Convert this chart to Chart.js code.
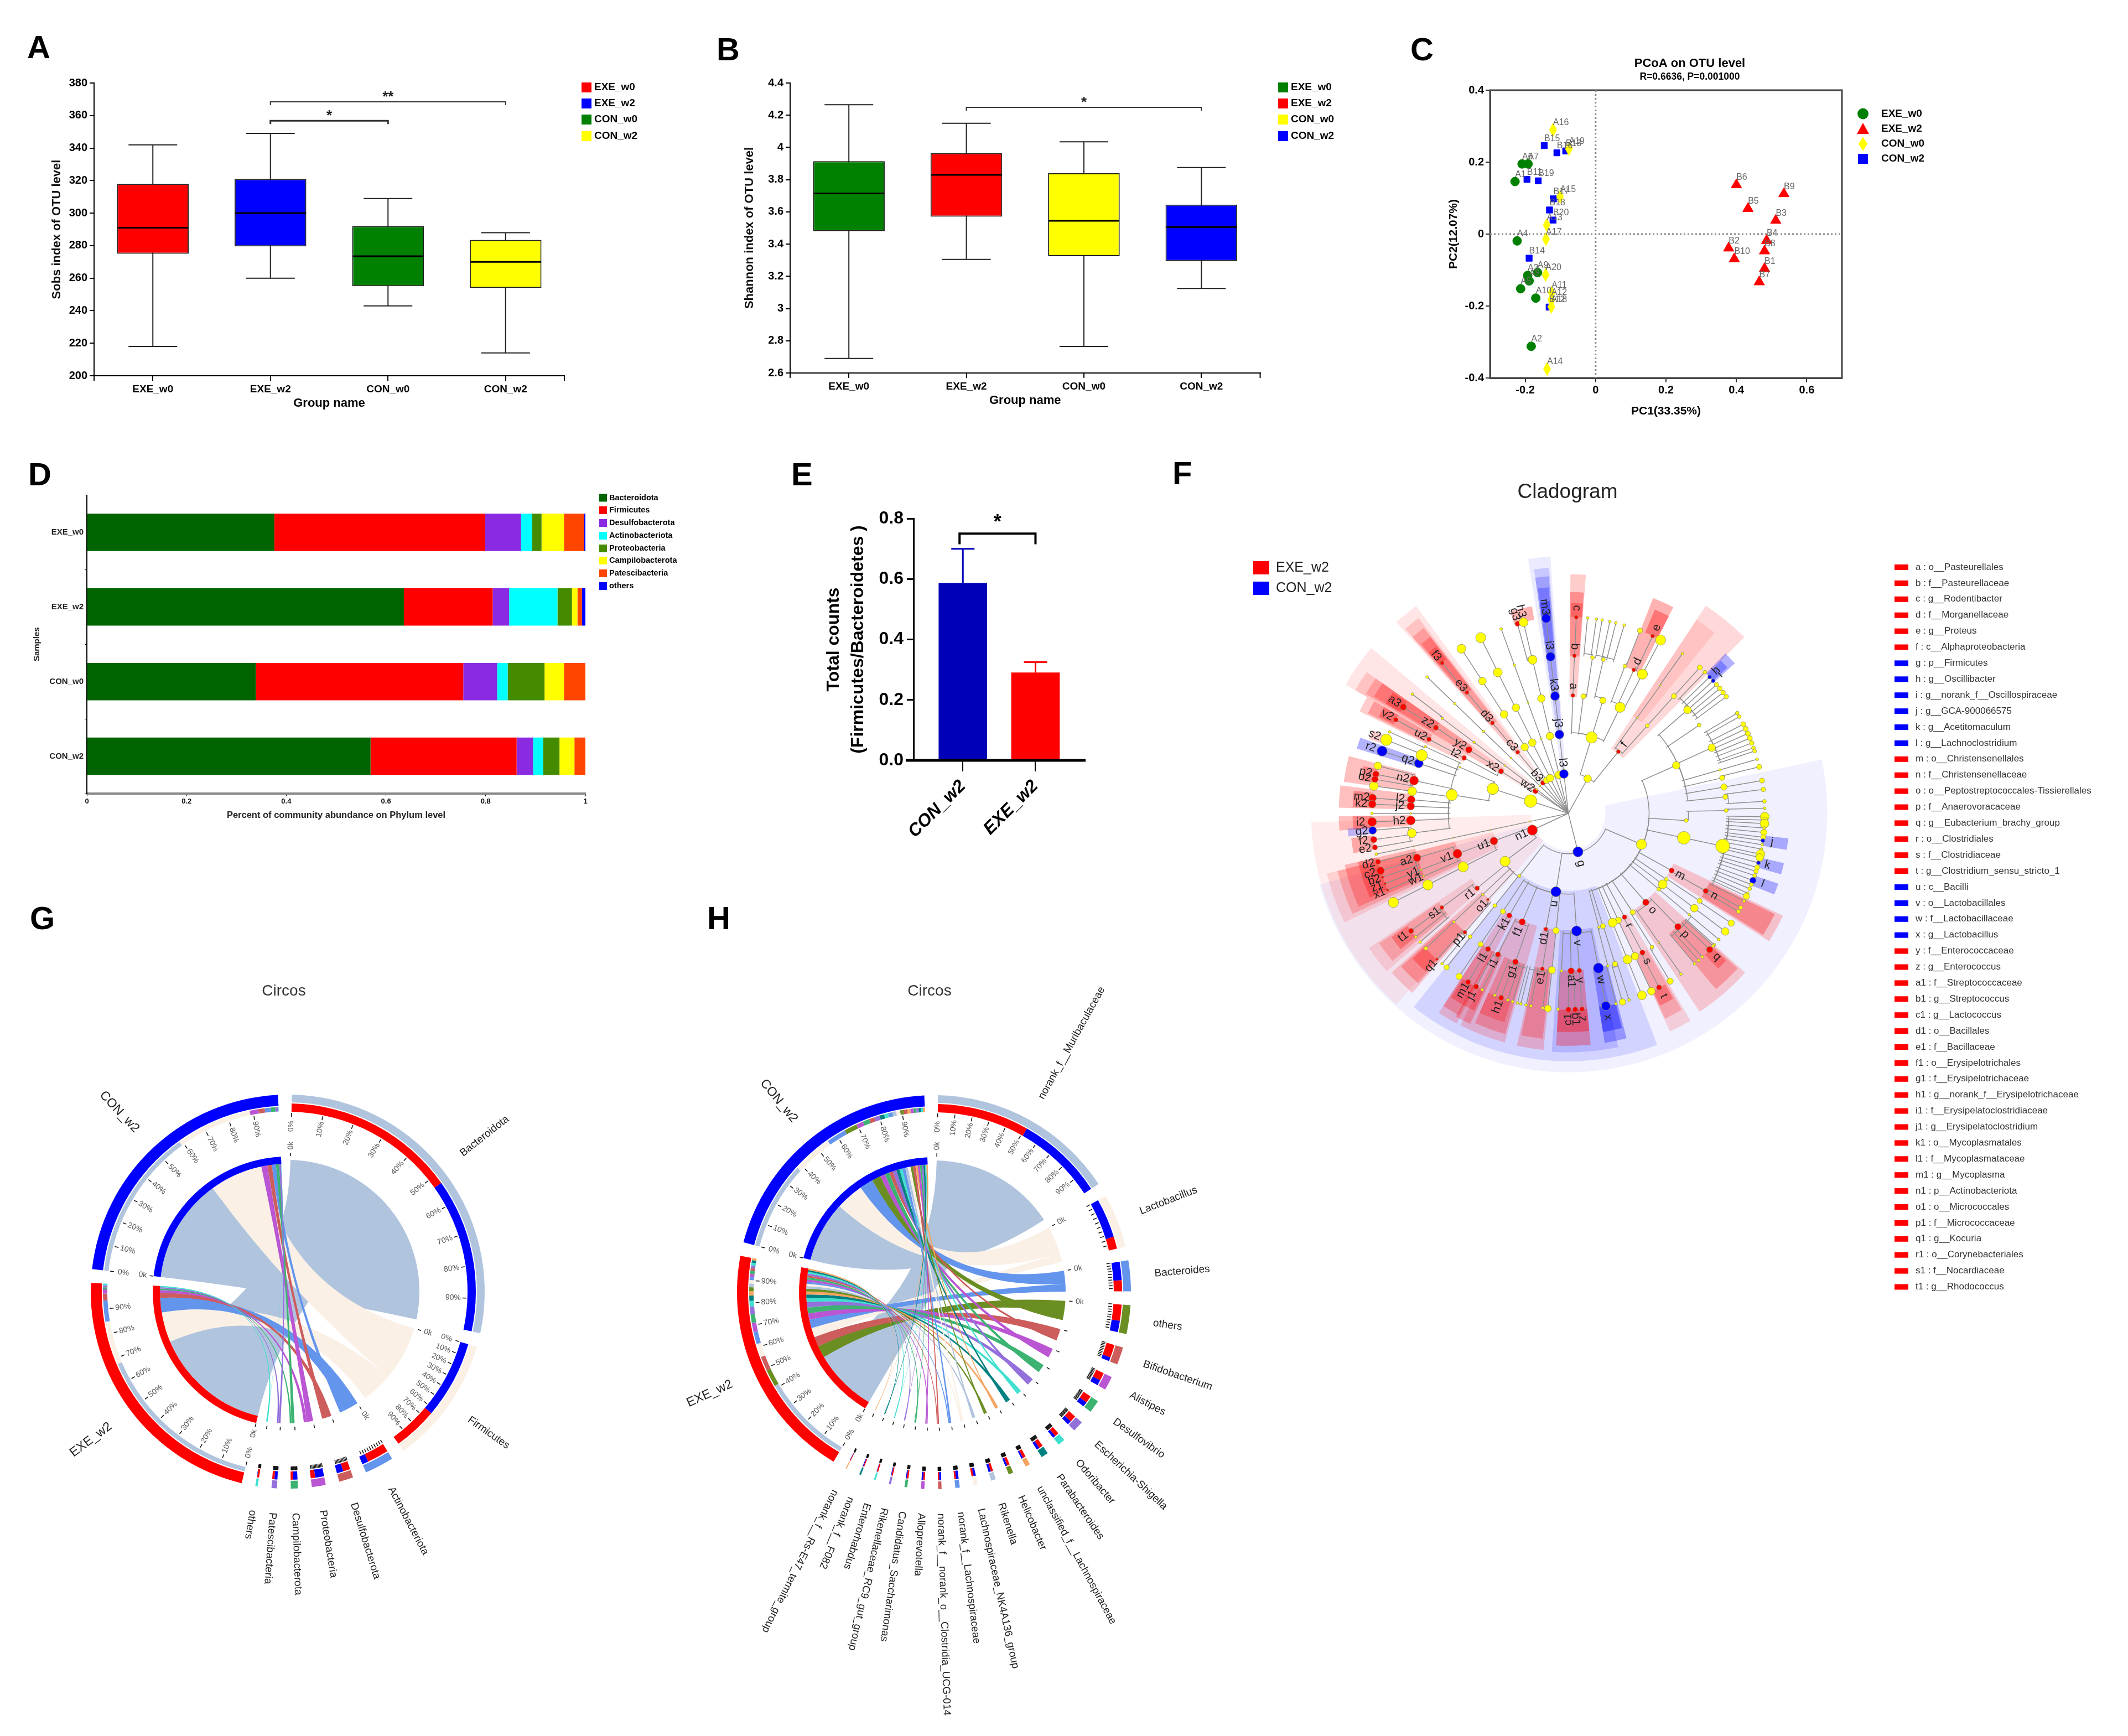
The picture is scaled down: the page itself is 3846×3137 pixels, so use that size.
<!DOCTYPE html>
<html>
<head>
<meta charset="utf-8">
<title>Figure</title>
<script src="https://cdn.jsdelivr.net/npm/chart.js@4/dist/chart.umd.js"></script>
<style>
  html, body { margin: 0; background: #fff; }
  #page { position: relative; width: 3846px; height: 3137px; overflow: hidden; background: #fff; }
  #page canvas { position: absolute; }
  .tag { position: absolute; font: bold 58px/58px "Liberation Sans", sans-serif; color: #000; }
</style>
</head>
<body>
<div id="page"></div>
<script>
// ---- data ----
const panelTags = [['A',49,56],['B',1295,60],['C',2549,60],['D',51,828],['E',1430,828],['F',2119,826],['G',54,1630],['H',1278,1630]];

// A
const groups = ['EXE_w0', 'EXE_w2', 'CON_w0', 'CON_w2'];
const sobsMin = [218, 260, 243, 214];
const sobsQ1 = [275, 279.5, 255, 254];
const sobsMedian = [291, 300, 273.5, 270];
const sobsQ3 = [318, 321, 292, 283.5];
const sobsMax = [342, 349, 309, 288];
const sobsColors = ['#ff0000', '#0000ff', '#008000', '#ffff00'];

// B
const shannonMin = [2.69, 3.305, 2.765, 3.125];
const shannonQ1 = [3.48, 3.57, 3.325, 3.295];
const shannonMedian = [3.715, 3.83, 3.545, 3.505];
const shannonQ3 = [3.915, 3.965, 3.84, 3.645];
const shannonMax = [4.265, 4.15, 4.035, 3.875];
const shannonColors = ['#008000', '#ff0000', '#ffff00', '#0000ff'];

// C
const pcoaExeW0 = [[-.229,.146,'A1'],[-.192,.195,'A7'],[-.209,.195,'A6'],[-.223,-.019,'A4'],[-.193,-.115,'A3'],[-.165,-.107,'A9'],[-.189,-.13,'A8'],[-.213,-.152,'A5'],[-.17,-.178,'A10'],[-.183,-.312,'A2']];
const pcoaExeW2 = [[.4,.137,'B6'],[.535,.112,'B9'],[.433,.071,'B5'],[.512,.038,'B3'],[.486,-.018,'B4'],[.48,-.047,'B8'],[.378,-.039,'B2'],[.394,-.069,'B10'],[.48,-.096,'B1'],[.465,-.133,'B7']];
const pcoaConW0 = [[-.121,.29,'A16'],[-.076,.237,'A19'],[-.101,.104,'A15'],[-.139,.025,'A13'],[-.141,-.014,'A17'],[-.142,-.113,'A20'],[-.125,-.163,'A11'],[-.126,-.183,'A12'],[-.126,-.202,'A18'],[-.138,-.375,'A14']];
const pcoaConW2 = [[-.146,.246,'B15'],[-.11,.226,'B16'],[-.085,.231,'B13'],[-.195,.152,'B11'],[-.163,.148,'B19'],[-.12,.098,'B17'],[-.131,.067,'B18'],[-.121,.039,'B20'],[-.189,-.067,'B14'],[-.132,-.203,'B12']];
const pcoaXTicks = [-.2, 0, .2, .4, .6];

// D
const phylumNames = ['Bacteroidota','Firmicutes','Desulfobacterota','Actinobacteriota','Proteobacteria','Campilobacterota','Patescibacteria','others'];
const phylumColors = ['#006400','#ff0000','#8a2be2','#00ffff','#458b00','#ffff00','#ff4500','#0000ff'];
const abundExeW0 = [.376,.423,.072,.022,.019,.045,.040,.003];
const abundExeW2 = [.636,.178,.033,.097,.029,.011,.009,.007];
const abundConW0 = [.339,.416,.068,.021,.074,.039,.043,0];
const abundConW2 = [.569,.293,.033,.02,.033,.03,.022,0];

// E
const ratioGroups = ['CON_w2', 'EXE_w2'];
const ratioValues = [.586, .29];
const ratioTops = [.70, .325];
const ratioColors = ['#0000b8', '#ff0000'];

// F : [angle, colour, radius, label, children]; a bare number is a small yellow leaf
const cladeTree = [
 [29,'y',6,'',[
  [17,'y',9,'',[
   [2.2,'r',3,'a',[[2.2,'r',3,'b',[[2.3,'r',3,'c']]]]],
   [7.3,'y',4,'',[[8.8,'y',3,'',[5.6,8.2]]]],
   [17,'y',5,'',[[12.8,'y',3,'',[9.9,12.2,14,16.5]]]],
   [26,'y',8,'',[[21,'y',3,'',[[21.4,'y',4]]],[24.5,'r',3,'d',[[25.4,'r',3,'e']]],[28,'y',8,'',[[28,'y',8]]]]]
  ]],
  [39,'r',3,'f',[[42,'y',3,'',[[42,'y',4,'',[[42,'y',4]]]]],[35.7,'y',1.5,'',[[35.7,'y',1.5,'',[35.5]]]]]]
 ]],
 [166,'b',8,'g',[
  [113,'y',8,'',[
   [66,'y',6,'',[
    [49,'y',6,'',[[44,'y',3],[46,'b',3,'h'],[47.5,'b',3,'i'],[49,'y',3.5],[50.5,'y',3.5],[52,'y',3.5],[53.5,'y',3.5]]],
    [56,'y',3],
    [65.4,'y',6,'',[[59.3,'y',3],[60.5,'y',3],[63,'y',4],[64.5,'y',4],[66,'y',4],[67.5,'y',4],[69,'y',3.5],[70.5,'y',3],[71.5,'y',3]]],
    [74,'y',2,'',[74]],
    [77,'y',4,'',[[76.3,'y',4]]],
    [80.4,'y',5,'',[[80.4,'y',4]]],
    [84,'y',4,'',[[83,'y',3.5],[86.5,'y',3]]]
   ]],
   [93.5,'y',3,'',[[89,'y',3,'',[88.5]]]],
   [102,'y',10,'',[[102,'y',11,'',[[91,'y',7],[92,'y',5],[93,'y',7],94.3,[95.6,'y',5],[97,'y',4],[98,'b',3,'j'],99.2,100.5,[102,'y',7],[103,'y',6],[104.6,'b',3,'k'],[106,'y',4],[107.2,'y',3.5],[108.5,'y',3],[110,'b',5,'l'],[111.3,'y',3],[112.6,'y',3],114,[115,'y',5],116.5]]]],
   [119,'r',4,'m',[[119.5,'r',4,'n',[[118.7,'y',3],[120,'y',3]]]]],
   [124,'y',3,'',[[123.7,'y',4,'',[[124,'y',5]]]]],
   [127,'y',7,'',[[127,'y',6,'',[[127,'y',6]]]]],
   [130,'y',3,'',[[130,'y',2,'',[130,132]]]],
   [139,'r',5,'o',[[136,'r',5,'p',[[134,'r',5,'q'],132.5,137,138.5,140]],[145,'y',1.5,'',[145]]]],
   [147,'y',4,'',[[148,'y',3,'',[[148.8,'y',5]]]]],
   [151.6,'r',3.5,'r',[[152,'r',4,'s',[[152.5,'r',4,'t']]]]],
   [155,'y',5,'',[[155,'y',6,'',[[155,'y',6]]]]],
   [158,'y',7,'',[[158,'y',7,'',[[158,'y',7]]]]],
   [163,'y',4,'',[[162.8,'y',4,'',[162,[164,'y',5]]]]],
   [165,'y',2,'',[[165.5,'y',2,'',[166]]]]
  ]],
  [189,'b',8,'u',[
   [176,'b',8,'v',[
    [169,'b',8,'w',[[169,'b',7,'x']]],
    [176,'r',3.5,'y',[[176,'r',3.5,'z']]],
    [179,'r',5,'a1',[[178,'r',4,'b1'],[180,'r',4,'c1']]],
    [182.5,'y',2,'',[183]]
   ]],
   [186,'y',5,'',[[186,'y',5.6,'',[[186,'y',5.5]]]]],
   [191,'r',3,'d1',[[189.5,'r',3,'e1',[187.5,191,192.4,194]]]],
   [203,'r',5,'f1',[[199.6,'r',4.5,'g1',[[200,'r',4,'h1'],195,196.5,198,202]],[206.5,'r',4,'i1',[[208,'r',4,'j1'],206]]]],
   [210,'r',4,'k1',[[210.6,'r',4,'l1',[[210.7,'r',4,'m1']]]]],
   [213.7,'y',4,'',[[213.8,'y',4,'',[[213.8,'y',5]]]]]
  ]],
  [218,'y',2.5]
 ]],
 [245,'r',8,'n1',[
  [232.8,'y',8,'',[
   [218.5,'y',3,'',[[218.5,'y',3,'',[[218.3,'y',4]]]]],
   [223,'r',2,'o1',[[221,'r',3,'p1',[[222,'r',2,'q1'],220]]]],
   [226.5,'y',2,'',[[226.5,'y',2,'',[[226.5,'y',3]]]]],
   [230.6,'r',3.5,'r1',[[233.3,'r',3,'s1',[[233.2,'r',4,'t1'],231,229]]]]
  ]],
  [249.6,'r',6,'u1',[
   [243,'y',8,'',[[243,'y',8,'',[[243,'y',8]]]]],
   [250,'r',7,'v1',[
    [253.6,'r',6,'a2',[[255.7,'r',4,'d2'],[253,'r',6,'c2'],[251,'r',2,'b2'],[249,'r',2,'z1'],[247,'r',2,'x1']]],
    [249,'y',1.5,'y1'],
    [246.5,'y',1.5,'w1']
   ]]
  ]]
 ]],
 [258,'y',1,'',[[258,'y',1,'',[[258,'y',1,'',[[258,'y',1,'',[258]]]]]]]],
 [288,'y',10,'',[[288,'y',9,'',[
  [279,'y',9,'',[
   [278,'y',7,'',[[278,'y',7]]],
   [275,'r',6,'l2',[[274.5,'r',6,'m2']]],
   [272.6,'r',6,'j2',[[272.7,'r',6,'k2']]],
   [270,'y',1.5,'',[270]],
   [267.4,'r',7,'h2',[[267.5,'r',7,'i2']]],
   [262.8,'y',7,'',[[265,'b',6,'g2'],[262.3,'r',5,'f2'],[260,'r',4,'e2']]]
  ]],
  [293,'y',1.5,'',[
   [282,'r',7,'n2',[[284,'y',6],[281.5,'r',5,'p2'],[280,'r',5,'o2']]],
   [288.5,'b',7,'q2',[[288.5,'b',8,'r2']]],
   [291.6,'y',9,'',[[292,'y',9,'s2']]],
   [295,'y',2,'',[294.5]]
  ]]
 ]]]],
 [304,'r',4,'w2',[[302,'r',4,'x2',[[302.6,'r',5,'y2',[[302.9,'r',4,'z2',[[302.8,'r',5,'a3']]]]],[298,'r',3.5,'t2',[[298,'r',3.5,'u2',[[298.5,'r',3.5,'v2']]]]]]]]],
 [307,'y',1.5,'',[[307,'y',1.5,'',[[307,'y',2,'',[[307,'y',2,'',[307.4]]]]]]]],
 [314,'y',1.5,'',[[314,'y',1.5,'',[[314,'y',2,'',[[314,'y',2,'',[314]]]]]]]],
 [320,'r',3.5,'b3',[[320.4,'r',3,'c3',[[320,'r',3,'d3',[[320,'r',3,'e3',[[320,'r',3,'f3']]]]]]]]],
 [326.5,'y',5,'',[[326.6,'y',6,'',[[327,'y',6,'',[[327,'y',6,'',[[327,'y',7]]]]]]]]],
 [332.6,'y',6,'',[[333,'y',6,'',[[333.6,'y',6,'',[[333.4,'y',7,'',[[333.5,'y',8]]]]]]]]],
 [340,'y',1.5,'',[[340,'y',1.5,'',[[340,'y',1.5,'',[[340,'y',2,'',[340]]]]]]]],
 [346,'y',6,'',[[346.6,'y',6,'',[[346.8,'y',6,'',[[346.9,'y',7,'',[[345,'r',4,'g3'],[346.8,'y',7,'h3']]]]]]]]],
 [353.5,'b',7,'l3',[[353.5,'b',7,'j3',[[353.5,'b',7,'k3',[[353.5,'b',7,'i3',[[353.5,'b',7,'m3']]]]]]]]]
];
const cladeRings = [73, 146, 217, 290, 361];
// [from angle, to angle, starting ring, outer radius, colour key, alpha]
const cladeWedges = [
 [78,254,1,468,'b',.06],[222,268,1,465,'r',.07],[159,218.6,2,448,'b',.12],[168,184,3,432,'b',.15],[165.5,171,4,420,'b',.3],[166,171,5,400,'b',.4],
 [351,356,1,465,'b',.08],[352,355.5,2,445,'b',.15],[352,355.3,3,430,'b',.2],[352.3,355,4,410,'b',.25],[352.3,355,5,385,'b',.3],
 [.5,4.2,3,432,'r',.2],[.5,4,4,400,'r',.3],[.7,4,5,380,'r',.3],
 [21.5,27,4,418,'r',.3],[23,27,5,400,'r',.35],[33.5,45,2,450,'r',.15],[33.5,39,3,420,'r',.1],
 [44.5,48,5,405,'b',.3],[45,47.5,5,390,'b',.3],[96.5,99.5,5,400,'b',.3],[103,106,5,400,'b',.3],[108.5,111.5,5,400,'b',.3],
 [115.5,122.5,3,430,'r',.2],[116,122,4,415,'r',.3],
 [132,146.5,3,430,'r',.18],[132.5,140,4,415,'r',.25],[133,136,5,390,'r',.3],
 [149.5,155,3,435,'r',.15],[150,154.8,4,410,'r',.2],[150.5,154.5,5,385,'r',.3],
 [186,192.5,3,430,'r',.2],[186.5,192,4,410,'r',.25],[195.5,207,3,430,'r',.18],[196,204,4,415,'r',.25],[197,204,5,395,'r',.25],
 [205,209,4,420,'r',.25],[205.5,209,5,395,'r',.3],[208,213,3,430,'r',.18],[208.5,213,4,415,'r',.25],[209,212.5,5,395,'r',.3],
 [174.5,178,4,420,'r',.3],[174.5,178,5,395,'r',.35],[178,183,4,420,'r',.3],[178,183,5,395,'r',.35],
 [229,236,3,435,'r',.12],[230,235.5,4,415,'r',.2],[231,235,5,390,'r',.3],[221,228,3,430,'r',.18],[221.5,227.5,4,410,'r',.25],[222,227,5,385,'r',.3],
 [244,256,2,450,'r',.12],[245,256,3,430,'r',.2],[246,257,4,415,'r',.25],[247,257,5,390,'r',.3],
 [265.7,269.3,4,415,'r',.25],[265.7,269.3,5,390,'r',.3],[264,266,5,400,'b',.25],[259.5,263.5,5,395,'r',.3],
 [271.4,277,4,415,'r',.25],[271.6,276,5,390,'r',.3],[278,284.6,4,410,'r',.25],[279,283,5,380,'r',.3],[287,290,4,400,'b',.3],[290.5,293,5,385,'r',.2],
 [300,310,1,465,'r',.1],[300,305,2,445,'r',.15],[300.5,305,3,425,'r',.2],[301,305,4,410,'r',.25],[301,304.5,5,385,'r',.3],
 [296,300,3,420,'r',.2],[296.5,300,4,405,'r',.25],[297,300,5,385,'r',.3],
 [318,323.7,1,465,'r',.1],[318.5,322.5,2,445,'r',.15],[318.5,322,3,425,'r',.2],[319,322,4,405,'r',.25],[319,321.5,5,385,'r',.3],
 [344,350,5,380,'r',.3]
];
const cladeKeyRed = ['a : o__Pasteurellales','b : f__Pasteurellaceae','c : g__Rodentibacter','d : f__Morganellaceae','e : g__Proteus','f : c__Alphaproteobacteria'];
const cladeKeyBlue = ['g : p__Firmicutes','h : g__Oscillibacter','i : g__norank_f__Oscillospiraceae','j : g__GCA-900066575','k : g__Acetitomaculum','l : g__Lachnoclostridium'];
const cladeKeyRed2 = ['m : o__Christensenellales','n : f__Christensenellaceae','o : o__Peptostreptococcales-Tissierellales','p : f__Anaerovoracaceae','q : g__Eubacterium_brachy_group','r : o__Clostridiales','s : f__Clostridiaceae','t : g__Clostridium_sensu_stricto_1'];
const cladeKeyBlue2 = ['u : c__Bacilli','v : o__Lactobacillales','w : f__Lactobacillaceae','x : g__Lactobacillus'];
const cladeKeyRed3 = ['y : f__Enterococcaceae','z : g__Enterococcus','a1 : f__Streptococcaceae','b1 : g__Streptococcus','c1 : g__Lactococcus','d1 : o__Bacillales','e1 : f__Bacillaceae','f1 : o__Erysipelotrichales','g1 : f__Erysipelotrichaceae','h1 : g__norank_f__Erysipelotrichaceae','i1 : f__Erysipelatoclostridiaceae','j1 : g__Erysipelatoclostridium','k1 : o__Mycoplasmatales','l1 : f__Mycoplasmataceae','m1 : g__Mycoplasma','n1 : p__Actinobacteriota','o1 : o__Micrococcales','p1 : f__Micrococcaceae','q1 : g__Kocuria','r1 : o__Corynebacteriales','s1 : f__Nocardiaceae','t1 : g__Rhodococcus'];

// G
const phylaG = ['Bacteroidota','Firmicutes','Actinobacteriota','Desulfobacterota','Proteobacteria','Campilobacterota','Patescibacteria','others'];
const phylaExe = [53.5,13.7,6.7,2.2,1.4,.7,.7,.6];
const phylaCon = [47.5,24,1.9,2,2.7,1.4,.9,.1];
const phylaColors = ['#b0c4de','#faf0e6','#6495ed','#cd5c5c','#ba55d3','#3cb371','#9370db','#40e0d0'];

// H
const generaH = ['norank_f__Muribaculaceae','Lactobacillus','Bacteroides','others','Bifidobacterium','Alistipes','Desulfovibrio','Escherichia-Shigella','Odoribacter','Parabacteroides','unclassified_f__Lachnospiraceae','Helicobacter','Rikenella','Lachnospiraceae_NK4A136_group','norank_f__Lachnospiraceae','norank_f__norank_o__Clostridia_UCG-014','Alloprevotella','Candidatus_Saccharimonas','Rikenellaceae_RC9_gut_group','Enterorhabdus','norank_f__F082','norank_f__Rs-E47_termite_group'];
const generaExe = [28.4,3.8,3.4,5,4,2.4,2.2,2,1.3,1.2,.9,.8,.7,.6,.5,.4,.5,.5,.4,.4,.3,.2];
const generaCon = [27.1,12.1,5.7,3.5,1.2,1.7,1.5,1.2,.8,.9,.5,.6,.7,.7,.8,.6,.5,.3,.2,.1,.2,.1];
const generaColors = ['#b0c4de','#faf0e6','#6495ed','#6b8e23','#cd5c5c','#ba55d3','#3cb371','#9370db','#40e0d0','#008080','#f4a460','#6b8e23','#b0c4de','#faf0e6','#6495ed','#cd5c5c','#ba55d3','#3cb371','#9370db','#40e0d0','#008080','#f4a460'];

// ---- helpers ----
const FONT = '"Liberation Sans", sans-serif';
Chart.defaults.font.family = FONT;
Chart.defaults.animation = false;
Chart.defaults.responsive = false;
Chart.defaults.plugins.legend.display = false;
Chart.defaults.plugins.tooltip.enabled = false;

const page = document.getElementById('page');
panelTags.forEach(function(t) {
    const d = document.createElement('div');
    d.className = 'tag';
    d.textContent = t[0];
    d.style.left = t[1] + 'px';
    d.style.top = t[2] + 'px';
    page.appendChild(d);
});

function place(l, t, w, h) {
    const c = document.createElement('canvas');
    c.width = w; c.height = h;
    c.style.left = l + 'px'; c.style.top = t + 'px';
    c.style.width = w + 'px'; c.style.height = h + 'px';
    page.appendChild(c);
    return c;
}

function text(ctx, s, x, y, font, color, align, rot) {
    ctx.save();
    ctx.translate(x, y);
    if (rot) ctx.rotate(rot * Math.PI / 180);
    ctx.font = font;
    ctx.fillStyle = color || '#000';
    ctx.textAlign = align || 'left';
    ctx.textBaseline = 'middle';
    ctx.fillText(s, 0, 0);
    ctx.restore();
}

function swatches(ctx, x, ys, labels, colors, size, font, textGap) {
    labels.forEach(function(l, i) {
        ctx.fillStyle = colors[i];
        ctx.fillRect(x, ys[i] - size / 2, size, size);
        text(ctx, l, x + size + textGap, ys[i], font, '#000');
    });
}

function tick(v) { return String(+Number(v).toFixed(1)); }

// box plot: floating bars for the boxes, whiskers and medians through the same scales
function boxChart(o) {
    const canvas = place(o.l, o.t, o.w, o.h);
    new Chart(canvas, {
        type: 'bar',
        data: {
            labels: groups,
            datasets: [{
                data: o.q1.map(function(v, i) { return [v, o.q3[i]]; }),
                backgroundColor: o.colors,
                borderColor: '#222',
                borderWidth: 2,
                borderSkipped: false,
                barPercentage: .61,
                categoryPercentage: 1
            }]
        },
        options: {
            layout: { padding: o.pad },
            scales: {
                x: {
                    grid: { drawOnChartArea: false, offset: false, tickLength: 9, color: '#000', lineWidth: 2 },
                    border: { color: '#000', width: 2 },
                    ticks: { color: '#000', font: { size: 19, weight: 'bold' }, padding: 4 },
                    title: { display: true, text: 'Group name', color: '#000', font: { size: 22, weight: 'bold' }, padding: { bottom: o.xTitlePad } },
                    afterFit: function(s) { s.height = o.xh; }
                },
                y: {
                    min: o.min, max: o.max,
                    grid: { drawOnChartArea: false, tickLength: 8, color: '#000', lineWidth: 2 },
                    border: { color: '#000', width: 2 },
                    ticks: { stepSize: o.step, color: '#000', font: { size: 20, weight: 'bold' }, padding: 4, callback: tick },
                    title: { display: true, text: o.yTitle, color: '#111', font: { size: 22, weight: 'bold' }, padding: { top: o.yTitlePad } },
                    afterFit: function(s) { s.width = o.yw; }
                }
            }
        },
        plugins: [{
            id: 'whiskers',
            beforeDatasetsDraw: function(chart) {
                const c = chart.ctx, x = chart.scales.x, y = chart.scales.y;
                c.save();
                c.strokeStyle = '#222'; c.lineWidth = 2;
                groups.forEach(function(g, i) {
                    const px = x.getPixelForValue(i);
                    c.beginPath();
                    c.moveTo(px, y.getPixelForValue(o.low[i])); c.lineTo(px, y.getPixelForValue(o.high[i]));
                    [o.low[i], o.high[i]].forEach(function(v) {
                        c.moveTo(px - 44, y.getPixelForValue(v)); c.lineTo(px + 44, y.getPixelForValue(v));
                    });
                    c.stroke();
                });
                c.restore();
            },
            afterDraw: function(chart) {
                const c = chart.ctx, x = chart.scales.x, y = chart.scales.y, a = chart.chartArea;
                c.save();
                c.strokeStyle = '#000'; c.lineWidth = 3;
                groups.forEach(function(g, i) {
                    const px = x.getPixelForValue(i), py = y.getPixelForValue(o.median[i]);
                    c.beginPath(); c.moveTo(px - 64, py); c.lineTo(px + 64, py); c.stroke();
                });
                c.lineWidth = 2;
                [a.left, a.right].forEach(function(ex) { c.beginPath(); c.moveTo(ex, a.bottom); c.lineTo(ex, a.bottom + 9); c.stroke(); });
                o.brackets.forEach(function(b) {
                    const x0 = x.getPixelForValue(b[0]), x1 = x.getPixelForValue(b[1]), py = y.getPixelForValue(b[2]);
                    c.lineWidth = b[4]; c.strokeStyle = '#333';
                    c.beginPath(); c.moveTo(x0, py + 6); c.lineTo(x0, py); c.lineTo(x1, py); c.lineTo(x1, py + 6); c.stroke();
                    text(c, b[3], (x0 + x1) / 2, py - 8, 'bold 26px ' + FONT, '#222', 'center');
                });
                c.restore();
                swatches(c, o.lx - o.l, [158, 187, 216, 246].map(function(v) { return v - o.t; }), groups, o.colors, 18, 'bold 19px ' + FONT, 5);
            }
        }]
    });
}

boxChart({
    l: 60, t: 120, w: 1160, h: 640, pad: { top: 30, right: 200 }, xh: 81, yw: 110, xTitlePad: 18, yTitlePad: 30,
    min: 200, max: 380, step: 20, yTitle: 'Sobs index of OTU level', lx: 1051,
    low: sobsMin, q1: sobsQ1, median: sobsMedian, q3: sobsQ3, high: sobsMax, colors: sobsColors,
    brackets: [[1, 3, 368.4, '**', 2], [1, 2, 356.8, '*', 3]]
});
boxChart({
    l: 1320, t: 120, w: 1160, h: 640, pad: { top: 30, right: 202.5 }, xh: 86, yw: 108, xTitlePad: 23, yTitlePad: 22,
    min: 2.6, max: 4.4, step: .2, yTitle: 'Shannon index of OTU level', lx: 2310,
    low: shannonMin, q1: shannonQ1, median: shannonMedian, q3: shannonQ3, high: shannonMax, colors: shannonColors,
    brackets: [[1, 3, 4.249, '*', 2]]
});

// C scatter
const narrowDiamond = document.createElement('canvas');
narrowDiamond.width = 16; narrowDiamond.height = 26;
(function() {
    const c = narrowDiamond.getContext('2d');
    c.fillStyle = '#ffff00';
    c.beginPath(); c.moveTo(8, 0); c.lineTo(15, 13); c.lineTo(8, 26); c.lineTo(1, 13); c.closePath(); c.fill();
})();
const pcoaSets = [
    { name: 'EXE_w0', rows: pcoaExeW0, color: '#008000', style: 'circle', radius: 8 },
    { name: 'EXE_w2', rows: pcoaExeW2, color: '#ff0000', style: 'triangle', radius: 11 },
    { name: 'CON_w0', rows: pcoaConW0, color: '#ffff00', style: narrowDiamond, radius: 11 },
    { name: 'CON_w2', rows: pcoaConW2, color: '#0000ff', style: 'rect', radius: 8 }
];
new Chart(place(2520, 90, 1040, 680), {
    type: 'scatter',
    data: {
        datasets: pcoaSets.map(function(s) {
            return {
                label: s.name,
                data: s.rows.map(function(r) { return { x: r[0], y: r[1] }; }),
                backgroundColor: s.color, borderColor: s.color,
                pointStyle: s.style, pointRadius: s.radius
            };
        })
    },
    options: {
        layout: { padding: { top: 73, right: 231 } },
        scales: {
            x: {
                min: -.3, max: .7,
                afterBuildTicks: function(s) { s.ticks = pcoaXTicks.map(function(v) { return { value: v }; }); },
                grid: { drawOnChartArea: false, tickLength: 8, color: '#333', lineWidth: 2 },
                border: { color: '#444', width: 3 },
                ticks: { color: '#000', font: { size: 20, weight: 'bold' }, padding: 2, callback: tick },
                title: { display: true, text: 'PC1(33.35%)', color: '#000', font: { size: 21, weight: 'bold' }, padding: { bottom: 14 } },
                afterFit: function(s) { s.height = 87; }
            },
            y: {
                min: -.4, max: .4,
                grid: { drawOnChartArea: false, tickLength: 8, color: '#333', lineWidth: 2 },
                border: { color: '#444', width: 3 },
                ticks: { stepSize: .2, color: '#000', font: { size: 20, weight: 'bold' }, padding: 3, callback: tick },
                title: { display: true, text: 'PC2(12.07%)', color: '#000', font: { size: 21, weight: 'bold' }, padding: { top: 95 } },
                afterFit: function(s) { s.width = 173; }
            }
        }
    },
    plugins: [{
        id: 'pcoaExtras',
        beforeDatasetsDraw: function(chart) {
            const c = chart.ctx, x = chart.scales.x, y = chart.scales.y, a = chart.chartArea;
            c.save();
            c.strokeStyle = '#444'; c.lineWidth = 3;
            c.strokeRect(a.left, a.top, a.right - a.left, a.bottom - a.top);
            c.strokeStyle = '#888'; c.setLineDash([3, 4]);
            c.beginPath();
            c.moveTo(a.left, y.getPixelForValue(0)); c.lineTo(a.right, y.getPixelForValue(0));
            c.moveTo(x.getPixelForValue(0), a.top); c.lineTo(x.getPixelForValue(0), a.bottom);
            c.stroke();
            c.restore();
        },
        afterDraw: function(chart) {
            const c = chart.ctx, x = chart.scales.x, y = chart.scales.y;
            pcoaSets.forEach(function(s) {
                s.rows.forEach(function(r) {
                    text(c, r[2], x.getPixelForValue(r[0]), y.getPixelForValue(r[1]) - 13, '16px ' + FONT, '#666');
                });
            });
            text(c, 'PCoA on OTU level', 534, 25, 'bold 22px ' + FONT, '#000', 'center');
            text(c, 'R=0.6636, P=0.001000', 534, 49, 'bold 17.5px ' + FONT, '#000', 'center');
            const lx = 847, ly = [115.5, 143, 170, 197];
            ly.forEach(function(py, i) {
                const s = pcoaSets[i];
                c.fillStyle = s.color;
                c.beginPath();
                if (i === 0) c.arc(lx, py, 10, 0, Math.PI * 2);
                if (i === 1) { c.moveTo(lx, py - 11); c.lineTo(lx + 11, py + 9); c.lineTo(lx - 11, py + 9); c.closePath(); }
                if (i === 2) { c.moveTo(lx, py - 13); c.lineTo(lx + 8, py); c.lineTo(lx, py + 13); c.lineTo(lx - 8, py); c.closePath(); }
                if (i === 3) c.rect(lx - 9, py - 9, 18, 18);
                c.fill();
                text(c, s.name, 880, py, 'bold 19px ' + FONT, '#000');
            });
        }
    }]
});

// D stacked bars
const abundRows = [abundExeW0, abundExeW2, abundConW0, abundConW2];
new Chart(place(40, 870, 1260, 620), {
    type: 'bar',
    data: {
        labels: groups,
        datasets: phylumNames.map(function(n, i) {
            return {
                label: n,
                data: abundRows.map(function(r) { return r[i]; }),
                backgroundColor: phylumColors[i],
                barPercentage: .5, categoryPercentage: 1
            };
        })
    },
    options: {
        indexAxis: 'y',
        layout: { padding: { top: 24.5, right: 242 } },
        scales: {
            x: {
                stacked: true, min: 0, max: 1,
                grid: { drawOnChartArea: false, tickLength: 5, color: '#000' },
                border: { color: '#888', width: 4 },
                ticks: { stepSize: .2, color: '#111', font: { size: 13, weight: 'bold' }, padding: 2, callback: tick },
                title: { display: true, text: 'Percent of community abundance on Phylum level', color: '#222', font: { size: 16.5, weight: 'bold' }, padding: { bottom: 7 } },
                afterFit: function(s) { s.height = 56; }
            },
            y: {
                stacked: true,
                grid: { drawOnChartArea: false, tickLength: 4, color: '#000' },
                border: { color: '#000', width: 2 },
                ticks: { color: '#222', font: { size: 15, weight: 'bold' }, padding: 2 },
                title: { display: true, text: 'Samples', color: '#222', font: { size: 15, weight: 'bold' }, padding: { top: 18 } },
                afterFit: function(s) { s.width = 117; }
            }
        }
    },
    plugins: [{
        id: 'abundLegend',
        afterDraw: function(chart) {
            swatches(chart.ctx, 1043, [29.5, 52, 75, 98, 121, 143, 166, 189], phylumNames, phylumColors, 14, 'bold 14.5px ' + FONT, 4);
        }
    }]
});

// E bars with error tops
new Chart(place(1440, 900, 560, 680), {
    type: 'bar',
    data: {
        datasets: [{
            data: ratioValues.map(function(v, i) { return { x: i, y: v }; }),
            backgroundColor: ratioColors,
            barThickness: 87
        }]
    },
    options: {
        layout: { padding: { top: 37, right: 38 } },
        scales: {
            x: {
                type: 'linear', min: -.68, max: 1.69, offset: false,
                afterBuildTicks: function(s) { s.ticks = ratioGroups.map(function(g, i) { return { value: i }; }); },
                grid: { drawOnChartArea: false, offset: false, tickLength: 20, color: '#000', lineWidth: 2 },
                border: { display: false },
                ticks: {
                    color: '#000', font: { size: 32, weight: 'bold', style: 'italic' }, minRotation: 45, maxRotation: 45, padding: 8,
                    callback: function(v) { return ratioGroups[v]; }
                },
                afterFit: function(s) { s.height = 206; s.paddingLeft = 0; s.paddingRight = 0; }
            },
            y: {
                min: 0, max: .8,
                grid: { drawOnChartArea: false, tickLength: 12, color: '#000', lineWidth: 3 },
                border: { color: '#000', width: 3 },
                ticks: { stepSize: .2, color: '#000', font: { size: 32, weight: 'bold' }, padding: 6, callback: function(v) { return Number(v).toFixed(1); } },
                title: {
                    display: true, text: ['Total counts', '(Firmicutes/Bacteroidetes )'], color: '#000',
                    font: { size: 32, weight: 'bold', lineHeight: 1.37 }, padding: { top: 45 }
                },
                afterFit: function(s) { s.width = 211; }
            }
        }
    },
    plugins: [{
        id: 'ratioExtras',
        beforeDatasetsDraw: function(chart) {
            const c = chart.ctx, x = chart.scales.x, y = chart.scales.y;
            c.save();
            c.lineWidth = 3;
            ratioTops.forEach(function(v, i) {
                const px = x.getPixelForValue(i);
                c.strokeStyle = ratioColors[i];
                c.beginPath();
                c.moveTo(px, y.getPixelForValue(ratioValues[i])); c.lineTo(px, y.getPixelForValue(v));
                c.moveTo(px - 21, y.getPixelForValue(v)); c.lineTo(px + 21, y.getPixelForValue(v));
                c.stroke();
            });
            c.restore();
        },
        afterDraw: function(chart) {
            const c = chart.ctx, x = chart.scales.x, y = chart.scales.y;
            c.save();
            c.strokeStyle = '#000'; c.lineWidth = 5;
            c.beginPath(); c.moveTo(197, y.getPixelForValue(0)); c.lineTo(522, y.getPixelForValue(0)); c.stroke();
            const x0 = x.getPixelForValue(0) - 6, x1 = x.getPixelForValue(1), py = y.getPixelForValue(.75);
            c.lineWidth = 4;
            c.beginPath(); c.moveTo(x0, y.getPixelForValue(.715)); c.lineTo(x0, py); c.lineTo(x1, py); c.lineTo(x1, y.getPixelForValue(.715)); c.stroke();
            c.restore();
            text(c, '*', (x0 + x1) / 2, 45, 'bold 36px ' + FONT, '#000', 'center');
        }
    }]
});

// F cladogram
const CLADE_COLORS = { r: '#ff0000', b: '#0000ff', y: '#ffff00' };
const cladeNodes = [];
function walkClade(raw, depth, parent) {
    const row = typeof raw === 'number' ? [raw, 'y', 2.2] : raw;
    const node = { a: row[0], c: row[1], r: row[2], label: row[3] || '', depth: depth, parent: parent };
    cladeNodes.push(node);
    (row[4] || []).forEach(function(k) { walkClade(k, depth + 1, node); });
}
cladeTree.forEach(function(n) { walkClade(n, 1, null); });

const cladeCx = 2831, cladeCy = 1467;
const cladeRect = { l: 2240, t: 860, w: 1606, h: 1520 };
function rad(deg) { return (deg - 90) * Math.PI / 180; }
function polarX(r, deg) { return r * Math.sin(deg * Math.PI / 180); }
function polarY(r, deg) { return -r * Math.cos(deg * Math.PI / 180); }

function pageScales(rect, cx, cy) {
    return {
        x: { display: false, min: rect.l - cx, max: rect.l + rect.w - cx },
        y: { display: false, reverse: true, min: rect.t - cy, max: rect.t + rect.h - cy }
    };
}

new Chart(place(cladeRect.l, cladeRect.t, cladeRect.w, cladeRect.h), {
    type: 'scatter',
    data: {
        datasets: [{
            data: cladeNodes.map(function(n) {
                const r = cladeRings[n.depth - 1];
                return { x: polarX(r, n.a), y: polarY(r, n.a) };
            }),
            pointRadius: cladeNodes.map(function(n) { return n.r * 1.15; }),
            backgroundColor: cladeNodes.map(function(n) { return CLADE_COLORS[n.c]; }),
            borderColor: '#8c8c60',
            borderWidth: .8
        }]
    },
    options: { scales: pageScales(cladeRect, cladeCx, cladeCy) },
    plugins: [{
        id: 'cladeShapes',
        beforeDatasetsDraw: function(chart) {
            const c = chart.ctx, sx = chart.scales.x, sy = chart.scales.y;
            const cx = sx.getPixelForValue(0), cy = sy.getPixelForValue(0);
            c.save();
            cladeWedges.forEach(function(w) {
                c.fillStyle = w[4] === 'r' ? 'rgba(255,0,0,' + w[5] + ')' : 'rgba(0,0,255,' + w[5] + ')';
                c.beginPath();
                c.arc(cx, cy, w[3], rad(w[0]), rad(w[1]));
                c.arc(cx, cy, Math.max(cladeRings[w[2] - 1] - 6, 0), rad(w[1]), rad(w[0]), true);
                c.closePath();
                c.fill();
            });
            c.strokeStyle = '#8e8e8e'; c.lineWidth = 1.5;
            cladeNodes.forEach(function(n) {
                const outer = cladeRings[n.depth - 1], inner = n.depth > 1 ? cladeRings[n.depth - 2] : 0;
                c.beginPath();
                c.moveTo(sx.getPixelForValue(polarX(outer, n.a)), sy.getPixelForValue(polarY(outer, n.a)));
                c.lineTo(sx.getPixelForValue(polarX(inner, n.a)), sy.getPixelForValue(polarY(inner, n.a)));
                if (n.parent) c.arc(cx, cy, inner, rad(n.a), rad(n.parent.a), n.parent.a < n.a);
                c.stroke();
            });
            c.restore();
        },
        afterDraw: function(chart) {
            const c = chart.ctx, sx = chart.scales.x, sy = chart.scales.y;
            cladeNodes.forEach(function(n) {
                if (!n.label) return;
                const r = cladeRings[n.depth - 1] + n.r + 14;
                const rot = (n.a >= 180 || n.a < 10) ? n.a - 270 : n.a - 90;
                text(c, n.label, sx.getPixelForValue(polarX(r, n.a)), sy.getPixelForValue(polarY(r, n.a)), '21px ' + FONT, '#222', 'center', rot);
            });
            const ox = cladeRect.l, oy = cladeRect.t;
            text(c, 'Cladogram', 2833 - ox, 890 - oy, '37px ' + FONT, '#222', 'center');
            c.fillStyle = '#ff0000'; c.fillRect(2265 - ox, 1014 - oy, 29, 24);
            c.fillStyle = '#0000ff'; c.fillRect(2265 - ox, 1051 - oy, 29, 24);
            text(c, 'EXE_w2', 2306 - ox, 1026.5 - oy, '25px ' + FONT, '#222');
            text(c, 'CON_w2', 2306 - ox, 1063 - oy, '25px ' + FONT, '#222');
            const rows = [].concat(
                cladeKeyRed.map(function(s) { return [s, '#ff0000']; }),
                cladeKeyBlue.map(function(s) { return [s, '#0000ff']; }),
                cladeKeyRed2.map(function(s) { return [s, '#ff0000']; }),
                cladeKeyBlue2.map(function(s) { return [s, '#0000ff']; }),
                cladeKeyRed3.map(function(s) { return [s, '#ff0000']; })
            );
            rows.forEach(function(row, i) {
                const py = 1025 + i * 28.9 - oy;
                c.fillStyle = row[1];
                c.fillRect(3424 - ox, py - 5, 25, 10);
                text(c, row[0], 3462 - ox, py, '17px ' + FONT, '#333');
            });
        }
    }]
});

// G, H chord diagrams
function chordChart(o) {
    const n = o.names.length;
    const taxonTotal = o.exe.reduce(function(a, v, i) { return a + v + o.con[i]; }, 0);
    const gap = (360 - taxonTotal - o.exeSpan - o.conSpan) / (n + 2);
    let angle = o.start;
    const sectors = o.names.map(function(name, i) {
        const first = o.exe[i] >= o.con[i] ? 'exe' : 'con';
        const s = { name: name, color: o.colors[i], from: angle, to: angle + o.exe[i] + o.con[i], index: i };
        const fe = first === 'exe' ? o.exe[i] : o.con[i];
        s.splits = first === 'exe'
            ? { exe: [angle, angle + fe], con: [angle + fe, s.to] }
            : { con: [angle, angle + fe], exe: [angle + fe, s.to] };
        angle = s.to + gap;
        return s;
    });
    const exeFrom = angle, conFrom = angle + o.exeSpan + gap;
    function ringParts(values, span, from) {
        const total = values.reduce(function(a, v) { return a + v; }, 0);
        const extra = (span - total) / values.length;
        const order = values.map(function(v, i) { return i; }).sort(function(a, b) { return values[b] - values[a]; });
        const parts = {};
        let a = from;
        order.forEach(function(i) { parts[i] = [a, a + values[i] + extra]; a += values[i] + extra; });
        return parts;
    }
    const exeParts = ringParts(o.exe, o.exeSpan, exeFrom);
    const conParts = ringParts(o.con, o.conSpan, conFrom);
    const rect = o.rect;

    new Chart(place(rect.l, rect.t, rect.w, rect.h), {
        type: 'scatter',
        data: { datasets: [{ data: [] }] },
        options: { scales: pageScales(rect, o.cx, o.cy) },
        plugins: [{
            id: 'chord',
            beforeDatasetsDraw: function(chart) {
                const c = chart.ctx, sx = chart.scales.x, sy = chart.scales.y;
                const cx = sx.getPixelForValue(0), cy = sy.getPixelForValue(0);
                function pt(r, a) { return [cx + r * Math.sin(a * Math.PI / 180), cy - r * Math.cos(a * Math.PI / 180)]; }
                function band(r0, r1, a0, a1, color) {
                    c.fillStyle = color;
                    c.beginPath();
                    c.arc(cx, cy, r1, rad(a0), rad(a1));
                    c.arc(cx, cy, r0, rad(a1), rad(a0), true);
                    c.closePath();
                    c.fill();
                }
                function ribbon(a, b, color) {
                    const rs = 238, rt = 231, p = pt(rt, b[0]), q = pt(rs, a[0]);
                    c.fillStyle = color;
                    c.beginPath();
                    c.arc(cx, cy, rs, rad(a[0]), rad(a[1]));
                    c.quadraticCurveTo(cx, cy, p[0], p[1]);
                    c.arc(cx, cy, rt, rad(b[0]), rad(b[1]));
                    c.quadraticCurveTo(cx, cy, q[0], q[1]);
                    c.closePath();
                    c.fill();
                }
                function ticks(from, to) {
                    c.strokeStyle = '#111'; c.lineWidth = 1.5;
                    for (let i = 0; i <= 9; i++) {
                        const a = from + (to - from) * i / 10, p = pt(316, a), q = pt(323, a);
                        c.beginPath(); c.moveTo(p[0], p[1]); c.lineTo(q[0], q[1]); c.stroke();
                    }
                    const p = pt(245, from), q = pt(251, from);
                    c.beginPath(); c.moveTo(p[0], p[1]); c.lineTo(q[0], q[1]); c.stroke();
                }
                function tickLabels(from, to, withPct, withK) {
                    function rot(a) { return a < 180 ? a - 90 : a - 270; }
                    if (withPct) for (let i = 0; i <= 9; i++) {
                        const a = from + (to - from) * i / 10, p = pt(299, a);
                        text(c, (i * 10) + '%', p[0], p[1], '14px ' + FONT, '#555', 'center', rot(a));
                    }
                    if (withK) {
                        const p = pt(264, from);
                        text(c, '0k', p[0], p[1], '14px ' + FONT, '#555', 'center', rot(from));
                    }
                }
                c.save();
                sectors.forEach(function(s) {
                    ribbon(s.splits.exe, exeParts[s.index], s.color);
                    ribbon(s.splits.con, conParts[s.index], s.color);
                });
                sectors.forEach(function(s) {
                    band(342, 356, s.from, s.to, s.color);
                    band(325, 340, s.splits.exe[0], s.splits.exe[1], '#ff0000');
                    band(325, 340, s.splits.con[0], s.splits.con[1], '#0000ff');
                    ticks(s.from, s.to);
                    tickLabels(s.from, s.to, s.to - s.from >= 20, s.to - s.from >= 8);
                    const rp = pt(400, (s.from + s.to) / 2), mid = (s.from + s.to) / 2;
                    text(c, s.name, rp[0], rp[1], '19px ' + FONT, '#222', 'left', mid - 90);
                });
                [[exeFrom, o.exeSpan, '#ff0000', exeParts, 'EXE_w2'], [conFrom, o.conSpan, '#0000ff', conParts, 'CON_w2']].forEach(function(s) {
                    const from = s[0], to = s[0] + s[1], mid = (from + to) / 2;
                    band(336, 356, from, to, s[2]);
                    band(231, 244, from, to, s[2]);
                    sectors.forEach(function(t) { band(326, 334, s[3][t.index][0], s[3][t.index][1], t.color); });
                    ticks(from, to);
                    tickLabels(from, to, true, true);
                    const rp = pt(445, mid);
                    text(c, s[4], rp[0], rp[1], '23px ' + FONT, '#222', 'center', mid - 270);
                });
                text(c, 'Circos', sx.getPixelForValue(o.titleX - o.cx), sy.getPixelForValue(1791 - o.cy), '28px ' + FONT, '#333', 'center');
                c.restore();
            }
        }]
    });
}

chordChart({
    names: phylaG, exe: phylaExe, con: phylaCon, colors: phylaColors, start: 1.2, exeSpan: 79, conSpan: 80.6,
    cx: 520, cy: 2334, titleX: 513, rect: { l: 0, t: 1760, w: 1180, h: 1200 }
});
chordChart({
    names: generaH, exe: generaExe, con: generaCon, colors: generaColors, start: 1.2, exeSpan: 70, conSpan: 72.5,
    cx: 1688, cy: 2335, titleX: 1680, rect: { l: 1180, t: 1760, w: 1040, h: 1377 }
});
</script>
</body>
</html>
